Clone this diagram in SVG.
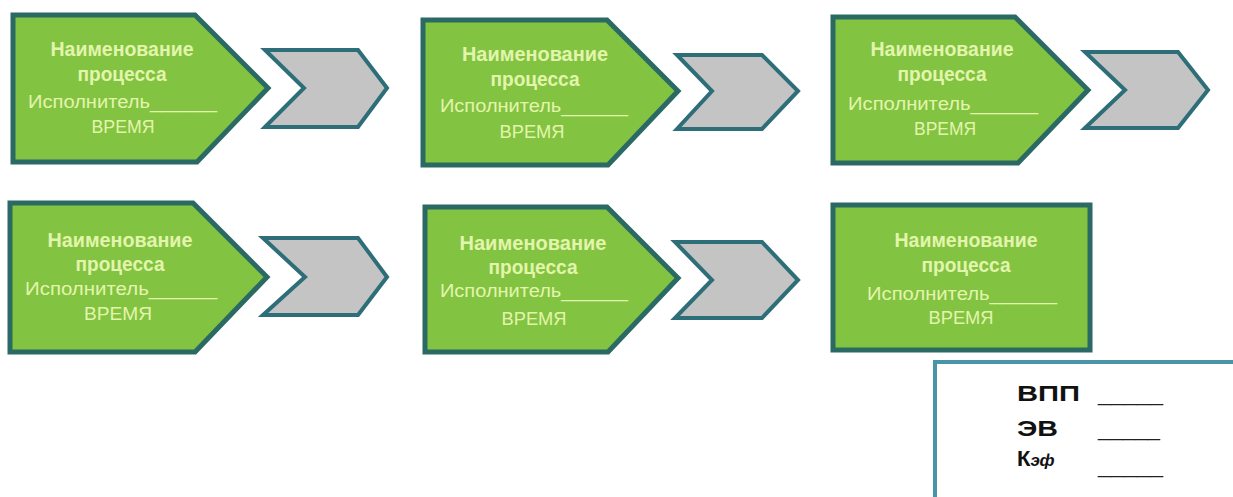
<svg xmlns="http://www.w3.org/2000/svg" width="1233" height="497" viewBox="0 0 1233 497">
<style>
.node{fill:#82c341;stroke:#2b6a64;stroke-width:5;stroke-linejoin:miter}
.chev{fill:#c4c4c4;stroke:#2d6e78;stroke-width:4;stroke-linejoin:miter}
.t{font-family:"Liberation Sans",Arial,sans-serif;fill:#e2f5ac;font-size:18px}
.b{font-weight:bold;text-anchor:middle;font-size:20px}
.m{text-anchor:middle}
.leg{font-family:"Liberation Sans",Arial,sans-serif;fill:#111;font-weight:bold;font-size:22px}
.ul{font-family:"Liberation Sans",Arial,sans-serif;fill:#222;font-size:21px}
</style>
<rect width="1233" height="497" fill="#ffffff"/>
<g id="connectors">
<polygon class="chev" points="265,50 358,50 387,88 358,127 265,127 304,88"/>
<polygon class="chev" points="677,55 762,55 798,91 762,129 677,129 712,91"/>
<polygon class="chev" points="1085,52 1178,52 1208,90 1178,128 1085,128 1125,90"/>
<polygon class="chev" points="263,238 358,238 387,277 358,315 263,315 305,277"/>
<polygon class="chev" points="675,242 762,242 798,280 762,318 675,318 712,280"/>
</g>
<g id="node1">
<polygon class="node" points="13,15 195,15 268,88 197,162 13,162"/>
<text class="t b" x="122" y="56" textLength="143" lengthAdjust="spacingAndGlyphs">Наименование</text>
<text class="t b" x="122" y="81" textLength="89" lengthAdjust="spacingAndGlyphs">процесса</text>
<text class="t" x="28" y="108" textLength="189" lengthAdjust="spacingAndGlyphs">Исполнитель______</text>
<text class="t m" x="123" y="133" textLength="63" lengthAdjust="spacingAndGlyphs">ВРЕМЯ</text>
</g>
<g id="node2">
<polygon class="node" points="423,20 607,20 678,91 608,165 423,165"/>
<text class="t b" x="535" y="61" textLength="146" lengthAdjust="spacingAndGlyphs">Наименование</text>
<text class="t b" x="535" y="86" textLength="89" lengthAdjust="spacingAndGlyphs">процесса</text>
<text class="t" x="440" y="112" textLength="188" lengthAdjust="spacingAndGlyphs">Исполнитель______</text>
<text class="t m" x="532" y="138" textLength="65" lengthAdjust="spacingAndGlyphs">ВРЕМЯ</text>
</g>
<g id="node3">
<polygon class="node" points="833,17 1015,17 1088,90 1018,163 833,163"/>
<text class="t b" x="942" y="56" textLength="143" lengthAdjust="spacingAndGlyphs">Наименование</text>
<text class="t b" x="942" y="81" textLength="89" lengthAdjust="spacingAndGlyphs">процесса</text>
<text class="t" x="848" y="110" textLength="190" lengthAdjust="spacingAndGlyphs">Исполнитель______</text>
<text class="t m" x="945" y="135" textLength="62" lengthAdjust="spacingAndGlyphs">ВРЕМЯ</text>
</g>
<g id="node4">
<polygon class="node" points="10,203 193,203 267,277 195,352 10,352"/>
<text class="t b" x="120" y="247" textLength="145" lengthAdjust="spacingAndGlyphs">Наименование</text>
<text class="t b" x="120" y="271" textLength="89" lengthAdjust="spacingAndGlyphs">процесса</text>
<text class="t" x="25" y="295" textLength="192" lengthAdjust="spacingAndGlyphs">Исполнитель______</text>
<text class="t m" x="118" y="320" textLength="68" lengthAdjust="spacingAndGlyphs">ВРЕМЯ</text>
</g>
<g id="node5">
<polygon class="node" points="425,207 607,207 678,278 608,352 425,352"/>
<text class="t b" x="533" y="250" textLength="147" lengthAdjust="spacingAndGlyphs">Наименование</text>
<text class="t b" x="533" y="274" textLength="89" lengthAdjust="spacingAndGlyphs">процесса</text>
<text class="t" x="440" y="297" textLength="188" lengthAdjust="spacingAndGlyphs">Исполнитель______</text>
<text class="t m" x="534" y="325" textLength="65" lengthAdjust="spacingAndGlyphs">ВРЕМЯ</text>
</g>
<g id="node6">
<rect class="node" x="833" y="205" width="257" height="145"/>
<text class="t b" x="966" y="247" textLength="143" lengthAdjust="spacingAndGlyphs">Наименование</text>
<text class="t b" x="966" y="272" textLength="89" lengthAdjust="spacingAndGlyphs">процесса</text>
<text class="t" x="867" y="300" textLength="190" lengthAdjust="spacingAndGlyphs">Исполнитель______</text>
<text class="t m" x="961" y="324" textLength="65" lengthAdjust="spacingAndGlyphs">ВРЕМЯ</text>
</g>
<g id="legend">
<rect x="935" y="362" width="400" height="200" fill="#ffffff" stroke="#4a94a8" stroke-width="4"/>
<text class="leg" x="1017" y="401" textLength="63" lengthAdjust="spacingAndGlyphs">ВПП</text>
<text class="ul" x="1098" y="401" textLength="65" lengthAdjust="spacingAndGlyphs">_____</text>
<text class="leg" x="1017" y="436" textLength="41" lengthAdjust="spacingAndGlyphs">ЭВ</text>
<text class="ul" x="1098" y="436" textLength="62" lengthAdjust="spacingAndGlyphs">_____</text>
<text class="leg" x="1017" y="466">К<tspan font-size="17" font-style="italic">эф</tspan></text>
<text class="ul" x="1098" y="473" textLength="65" lengthAdjust="spacingAndGlyphs">_____</text>
</g>
</svg>
